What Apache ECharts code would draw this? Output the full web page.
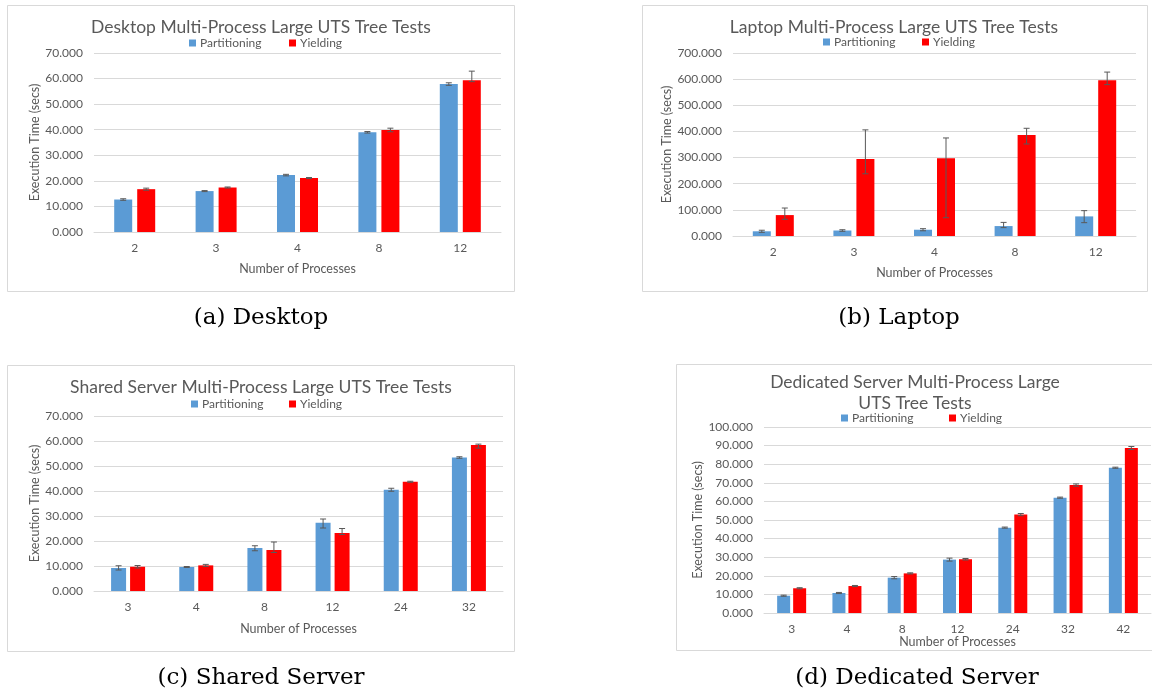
<!DOCTYPE html>
<html>
<head>
<meta charset="utf-8">
<script src="https://cdn.jsdelivr.net/npm/echarts@6/dist/echarts.min.js"></script>
<style>
  html, body { margin: 0; padding: 0; background: #ffffff; }
  #chart { width: 1152px; height: 694px; }
</style>
</head>
<body>
<div id="chart"></div>
<script>
// ---- data: execution time (secs) per number of processes ----
// (a) Desktop
const desktopProcs = ['2', '3', '4', '8', '12'];
const desktopPart = [12.7, 16.0, 22.25, 39.0, 57.85];
const desktopPartUp = [0.3, 0.2, 0.3, 0.3, 0.5];
const desktopPartDown = [0.3, 0.2, 0.3, 0.3, 0.5];
const desktopYield = [16.75, 17.4, 21.1, 39.9, 59.3];
const desktopYieldUp = [0.4, 0.2, 0.2, 0.7, 3.6];
const desktopYieldDown = [0.4, 0.2, 0.2, 0.7, 0.5];

// (b) Laptop
const laptopProcs = ['2', '3', '4', '8', '12'];
const laptopPart = [18, 21, 24, 38, 75];
const laptopPartUp = [4, 3, 4, 14, 22];
const laptopPartDown = [4, 3, 4, 6, 24];
const laptopYield = [80, 295, 297, 386, 596];
const laptopYieldUp = [27, 111, 78, 26, 31];
const laptopYieldDown = [16, 57, 227, 34, 17];

// (c) Shared Server
const sharedProcs = ['3', '4', '8', '12', '24', '32'];
const sharedPart = [9.2, 9.6, 17.2, 27.3, 40.5, 53.4];
const sharedPartUp = [0.9, 0.2, 0.9, 1.5, 0.6, 0.3];
const sharedPartDown = [0.8, 0.2, 1.1, 2.1, 0.6, 0.3];
const sharedYield = [9.7, 10.25, 16.4, 23.2, 43.7, 58.45];
const sharedYieldUp = [0.5, 0.4, 3.2, 1.8, 0.2, 0.3];
const sharedYieldDown = [0.5, 0.4, 1.0, 0.6, 0.2, 1.3];

// (d) Dedicated Server
const dedicatedProcs = ['3', '4', '8', '12', '24', '32', '42'];
const dedicatedPart = [9.3, 10.75, 19.0, 28.7, 45.9, 62.0, 78.1];
const dedicatedPartUp = [0.3, 0.3, 0.6, 0.8, 0.3, 0.3, 0.3];
const dedicatedPartDown = [0.3, 0.3, 0.6, 0.8, 0.3, 0.3, 0.3];
const dedicatedYield = [13.3, 14.5, 21.3, 28.9, 52.9, 68.8, 88.7];
const dedicatedYieldUp = [0.3, 0.3, 0.3, 0.4, 0.6, 0.6, 0.8];
const dedicatedYieldDown = [0.3, 0.3, 0.3, 0.4, 0.6, 0.6, 0.8];

const seriesNames = ['Partitioning', 'Yielding'];
const colors = ['#5B9BD5', '#FF0000'];
const textColor = '#595959';
const gridColor = '#D9D9D9';
const uiFont = 'Lato, "Open Sans", sans-serif';

// ---- panel layout ----
const panels = [
  { procs: desktopProcs, vals: [desktopPart, desktopYield],
    up: [desktopPartUp, desktopYieldUp], down: [desktopPartDown, desktopYieldDown],
    max: 70, interval: 10,
    grid: { left: 94, top: 53, width: 407, height: 179 },
    barWidth: 18, barGapPx: 5, xNameGap: 30, yNameGap: 52,
    box: [7, 5, 507, 286], title: ['Desktop Multi-Process Large UTS Tree Tests'],
    titleX: 261, titleY: 27, legendX: [189, 289], legendY: 44,
    caption: '(a) Desktop', capX: 261, capY: 318 },
  { procs: laptopProcs, vals: [laptopPart, laptopYield],
    up: [laptopPartUp, laptopYieldUp], down: [laptopPartDown, laptopYieldDown],
    max: 700, interval: 100,
    grid: { left: 733, top: 53, width: 403, height: 183 },
    barWidth: 18, barGapPx: 5, xNameGap: 30, yNameGap: 58,
    box: [642, 5, 505, 286], title: ['Laptop Multi-Process Large UTS Tree Tests'],
    titleX: 894, titleY: 27, legendX: [823, 922], legendY: 43,
    caption: '(b) Laptop', capX: 899, capY: 318 },
  { procs: sharedProcs, vals: [sharedPart, sharedYield],
    up: [sharedPartUp, sharedYieldUp], down: [sharedPartDown, sharedYieldDown],
    max: 70, interval: 10,
    grid: { left: 94, top: 416, width: 409, height: 175 },
    barWidth: 15, barGapPx: 4, xNameGap: 31, yNameGap: 52,
    box: [7, 365, 507, 286], title: ['Shared Server Multi-Process Large UTS Tree Tests'],
    titleX: 261, titleY: 387, legendX: [191, 289], legendY: 405,
    caption: '(c) Shared Server', capX: 261, capY: 678 },
  { procs: dedicatedProcs, vals: [dedicatedPart, dedicatedYield],
    up: [dedicatedPartUp, dedicatedYieldUp], down: [dedicatedPartDown, dedicatedYieldDown],
    max: 100, interval: 10,
    grid: { left: 764, top: 427, width: 387, height: 186 },
    barWidth: 13, barGapPx: 3, xNameGap: 22, yNameGap: 59,
    box: [676, 364, 500, 286], title: ['Dedicated Server Multi-Process Large', 'UTS Tree Tests'],
    titleX: 915, titleY: 382, legendX: [841, 949], legendY: 419,
    caption: '(d) Dedicated Server', capX: 917, capY: 678 }
];

// error bar drawn as whisker with caps, shifted onto its bar within the category
function errorBars(panelIndex, seriesIndex, p) {
  const offset = (seriesIndex === 0 ? -1 : 1) * (p.barWidth + p.barGapPx) / 2;
  const vals = p.vals[seriesIndex];
  return {
    type: 'custom',
    name: seriesNames[seriesIndex] + ' range',
    xAxisIndex: panelIndex,
    yAxisIndex: panelIndex,
    z: 10,
    silent: true,
    data: vals.map((v, i) => [i, v + p.up[seriesIndex][i], v - p.down[seriesIndex][i]]),
    renderItem(params, api) {
      const hi = api.coord([api.value(0), api.value(1)]);
      const lo = api.coord([api.value(0), api.value(2)]);
      const x = hi[0] + offset;
      const cap = 3;
      const st = { stroke: '#595959', lineWidth: 1 };
      return {
        type: 'group',
        children: [
          { type: 'line', shape: { x1: x, y1: hi[1], x2: x, y2: lo[1] }, style: st },
          { type: 'line', shape: { x1: x - cap, y1: hi[1], x2: x + cap, y2: hi[1] }, style: st },
          { type: 'line', shape: { x1: x - cap, y1: lo[1], x2: x + cap, y2: lo[1] }, style: st }
        ]
      };
    }
  };
}

const grids = [], xAxes = [], yAxes = [], series = [], legends = [], graphics = [];

panels.forEach((p, k) => {
  grids.push(Object.assign({ containLabel: false }, p.grid));
  xAxes.push({
    type: 'category', gridIndex: k, data: p.procs,
    name: 'Number of Processes', nameLocation: 'middle', nameGap: p.xNameGap,
    nameTextStyle: { color: textColor, fontSize: 12.5, fontFamily: uiFont },
    axisLine: { lineStyle: { color: gridColor, width: 1 } },
    axisTick: { show: false },
    axisLabel: { color: textColor, fontSize: 12, fontFamily: uiFont, margin: 10 }
  });
  yAxes.push({
    type: 'value', gridIndex: k, min: 0, max: p.max, interval: p.interval,
    name: 'Execution Time (secs)', nameLocation: 'middle', nameGap: p.yNameGap,
    nameTextStyle: { color: textColor, fontSize: 12.5, fontFamily: uiFont },
    axisLine: { show: false }, axisTick: { show: false },
    splitLine: { lineStyle: { color: gridColor, width: 1 } },
    axisLabel: { color: textColor, fontSize: 12, fontFamily: uiFont, margin: 11,
                 formatter: v => v.toFixed(3) }
  });
  seriesNames.forEach((nm, s) => {
    series.push({
      type: 'bar', name: nm, xAxisIndex: k, yAxisIndex: k,
      data: p.vals[s], barWidth: p.barWidth,
      barGap: (p.barGapPx / p.barWidth * 100).toFixed(1) + '%',
      itemStyle: { color: colors[s] },
      silent: true
    });
  });
  seriesNames.forEach((nm, s) => series.push(errorBars(k, s, p)));
  seriesNames.forEach((nm, s) => {
    legends.push({
      data: [nm], left: p.legendX[s], top: p.legendY - 7, padding: 0,
      icon: 'rect', itemWidth: 7, itemHeight: 7, itemGap: 0,
      textStyle: { color: textColor, fontSize: 12, fontFamily: uiFont, padding: [0, 0, 0, -1] },
      selectedMode: false
    });
  });
  graphics.push({
    type: 'rect', shape: { x: p.box[0] + 0.5, y: p.box[1] + 0.5, width: p.box[2], height: p.box[3] },
    style: { fill: 'none', stroke: gridColor, lineWidth: 1 }, silent: true
  });
  p.title.forEach((line, li) => {
    graphics.push({
      type: 'text', x: p.titleX, y: p.titleY + li * 21, silent: true,
      style: { text: line, fill: textColor, font: '17.5px ' + uiFont,
               align: 'center', verticalAlign: 'middle' }
    });
  });
  graphics.push({
    type: 'text', x: p.capX, y: p.capY, silent: true,
    style: { text: p.caption, fill: '#000000', font: '23px "DejaVu Serif", serif',
             align: 'center', verticalAlign: 'middle' }
  });
});

const chart = echarts.init(document.getElementById('chart'), null, { renderer: 'canvas' });
chart.setOption({
  backgroundColor: '#ffffff',
  animation: false,
  grid: grids,
  xAxis: xAxes,
  yAxis: yAxes,
  legend: legends,
  series: series,
  graphic: graphics
});
</script>
</body>
</html>
